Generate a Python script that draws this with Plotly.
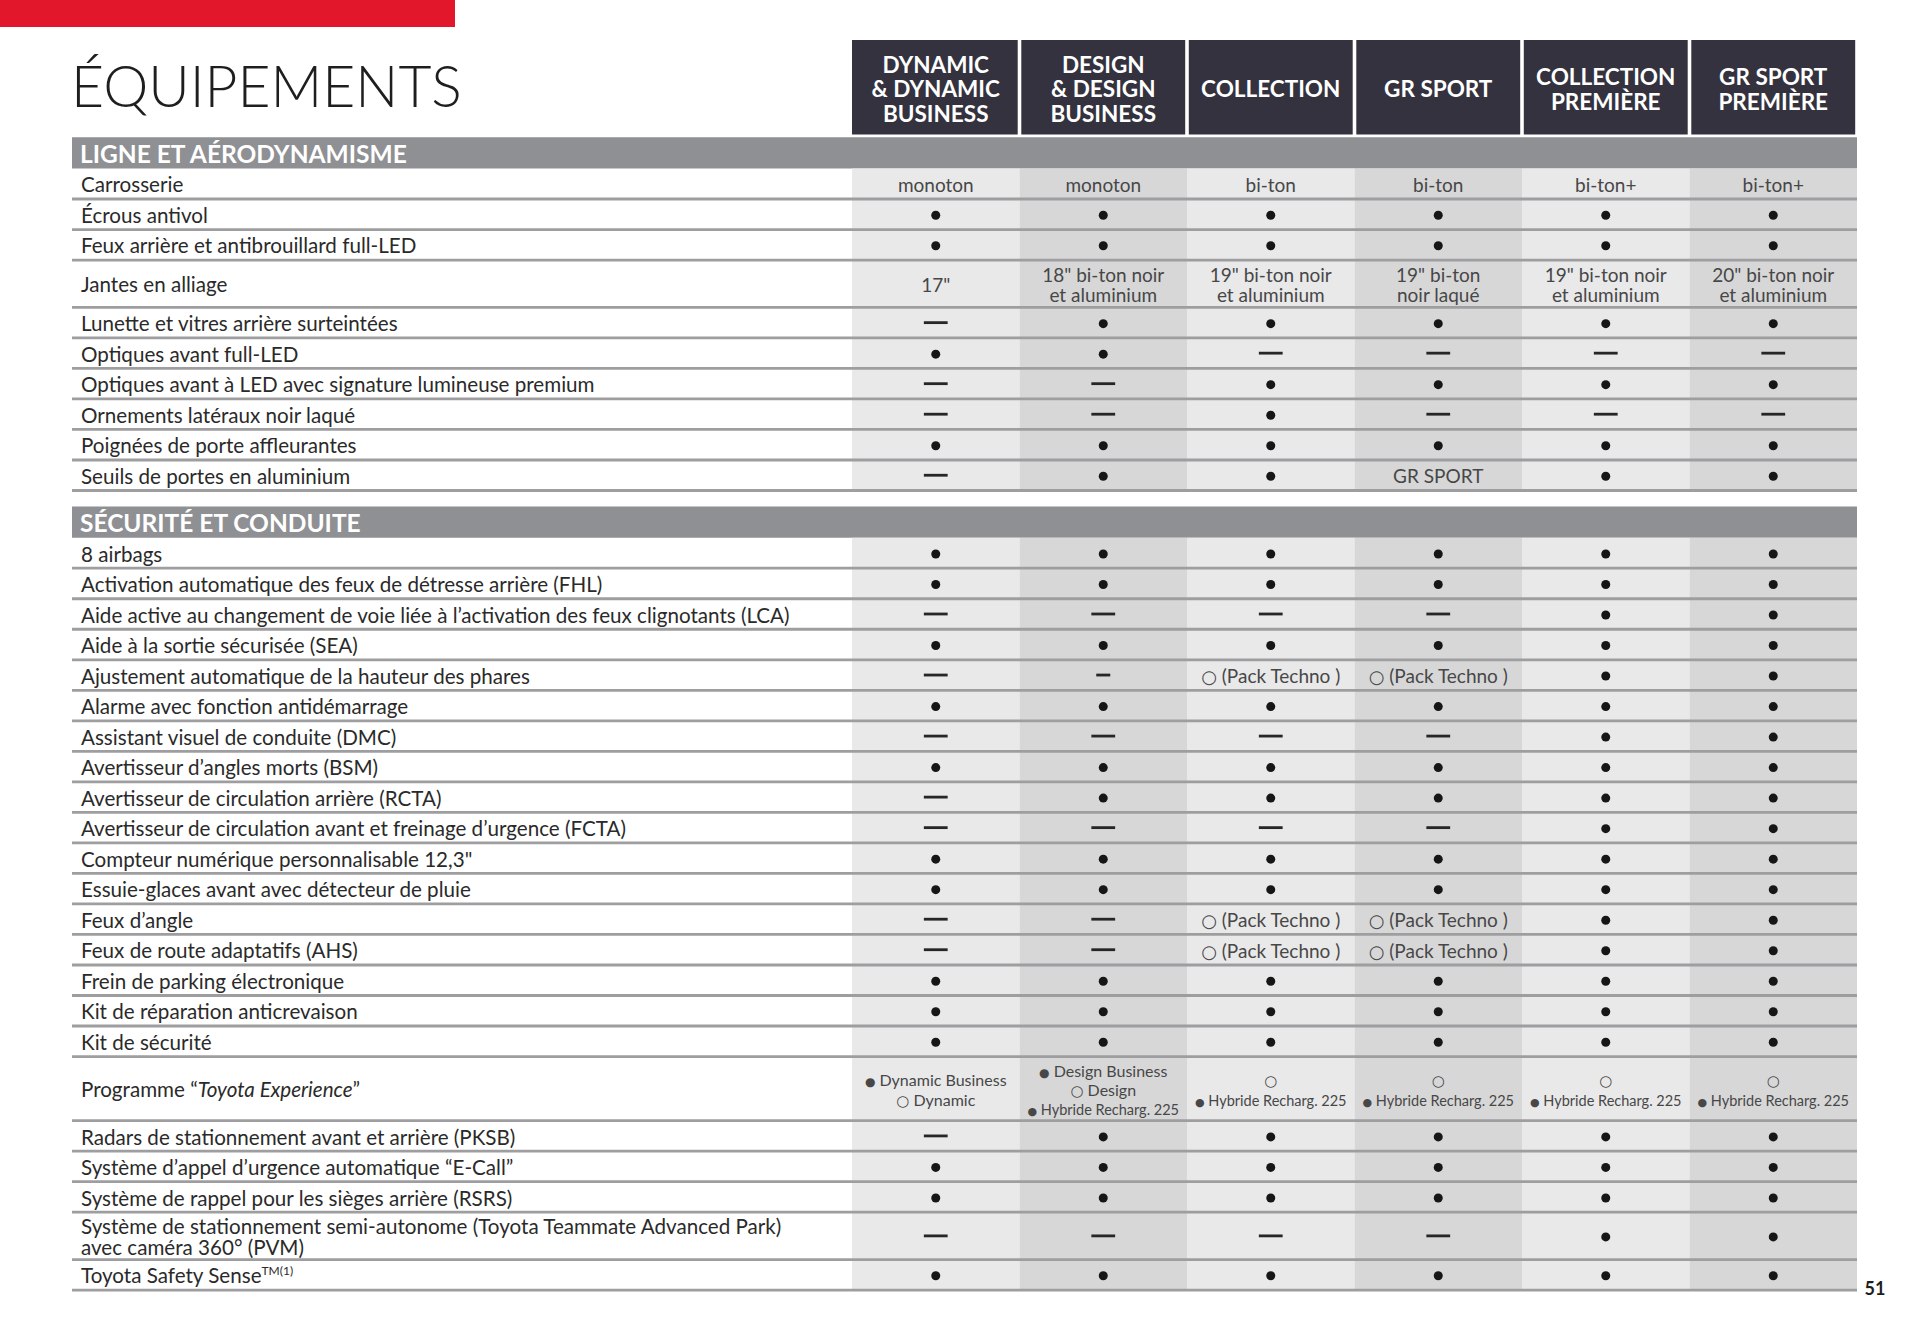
import plotly.graph_objects as go

# ---------------- data ----------------
title = "ÉQUIPEMENTS"
page_number = "51"

versions = [
    "DYNAMIC\n& DYNAMIC\nBUSINESS",
    "DESIGN\n& DESIGN\nBUSINESS",
    "COLLECTION",
    "GR SPORT",
    "COLLECTION\nPREMIÈRE",
    "GR SPORT\nPREMIÈRE",
]

section_ligne = "LIGNE ET AÉRODYNAMISME"
labels_ligne = [
    "Carrosserie",
    "Écrous antivol",
    "Feux arrière et antibrouillard full-LED",
    "Jantes en alliage",
    "Lunette et vitres arrière surteintées",
    "Optiques avant full-LED",
    "Optiques avant à LED avec signature lumineuse premium",
    "Ornements latéraux noir laqué",
    "Poignées de porte affleurantes",
    "Seuils de portes en aluminium",
]
values_ligne = [
    ["monoton", "monoton", "bi-ton", "bi-ton", "bi-ton+", "bi-ton+"],
    ["●", "●", "●", "●", "●", "●"],
    ["●", "●", "●", "●", "●", "●"],
    ["17\"", "18\" bi-ton noir\net aluminium", "19\" bi-ton noir\net aluminium",
     "19\" bi-ton\nnoir laqué", "19\" bi-ton noir\net aluminium", "20\" bi-ton noir\net aluminium"],
    ["—", "●", "●", "●", "●", "●"],
    ["●", "●", "—", "—", "—", "—"],
    ["—", "—", "●", "●", "●", "●"],
    ["—", "—", "●", "—", "—", "—"],
    ["●", "●", "●", "●", "●", "●"],
    ["—", "●", "●", "GR SPORT", "●", "●"],
]

section_securite = "SÉCURITÉ ET CONDUITE"
labels_securite = [
    "8 airbags",
    "Activation automatique des feux de détresse arrière (FHL)",
    "Aide active au changement de voie liée à l’activation des feux clignotants (LCA)",
    "Aide à la sortie sécurisée (SEA)",
    "Ajustement automatique de la hauteur des phares",
    "Alarme avec fonction antidémarrage",
    "Assistant visuel de conduite (DMC)",
    "Avertisseur d’angles morts (BSM)",
    "Avertisseur de circulation arrière (RCTA)",
    "Avertisseur de circulation avant et freinage d’urgence (FCTA)",
    "Compteur numérique personnalisable 12,3\"",
    "Essuie-glaces avant avec détecteur de pluie",
    "Feux d’angle",
    "Feux de route adaptatifs (AHS)",
    "Frein de parking électronique",
    "Kit de réparation anticrevaison",
    "Kit de sécurité",
    "Programme “<i>Toyota Experience</i>”",
    "Radars de stationnement avant et arrière (PKSB)",
    "Système d’appel d’urgence automatique “E-Call”",
    "Système de rappel pour les sièges arrière (RSRS)",
    "Système de stationnement semi-autonome (Toyota Teammate Advanced Park)\navec caméra 360° (PVM)",
    "Toyota Safety Sense<sup><span style=\"font-size:12px\">TM(1)</span></sup>",
]
PT = "○ (Pack Techno )"
HYB = "○\n● Hybride Recharg. 225"
values_securite = [
    ["●", "●", "●", "●", "●", "●"],
    ["●", "●", "●", "●", "●", "●"],
    ["—", "—", "—", "—", "●", "●"],
    ["●", "●", "●", "●", "●", "●"],
    ["—", "–", PT, PT, "●", "●"],
    ["●", "●", "●", "●", "●", "●"],
    ["—", "—", "—", "—", "●", "●"],
    ["●", "●", "●", "●", "●", "●"],
    ["—", "●", "●", "●", "●", "●"],
    ["—", "—", "—", "—", "●", "●"],
    ["●", "●", "●", "●", "●", "●"],
    ["●", "●", "●", "●", "●", "●"],
    ["—", "—", PT, PT, "●", "●"],
    ["—", "—", PT, PT, "●", "●"],
    ["●", "●", "●", "●", "●", "●"],
    ["●", "●", "●", "●", "●", "●"],
    ["●", "●", "●", "●", "●", "●"],
    ["● Dynamic Business\n○ Dynamic", "● Design Business\n○ Design\n● Hybride Recharg. 225",
     HYB, HYB, HYB, HYB],
    ["—", "●", "●", "●", "●", "●"],
    ["●", "●", "●", "●", "●", "●"],
    ["●", "●", "●", "●", "●", "●"],
    ["—", "—", "—", "—", "●", "●"],
    ["●", "●", "●", "●", "●", "●"],
]

sections = [
    (section_ligne, labels_ligne, values_ligne),
    (section_securite, labels_securite, values_securite),
]

# ---------------- styles / geometry ----------------
W, H = 1920, 1344
X_LEFT, X_VAL, X_RIGHT = 72, 852, 1857
COL_W = (X_RIGHT - X_VAL) / len(versions)
HEAD_TOP, HEAD_BOT = 40, 134.5
Y_START = 137.3
SEC_H = 31.2
ROW_H1, ROW_STEP = 30.52, 16.8
SEC_GAP = 16
LABEL_PAD = 9
TY = 3.5  # vertical nudge so the text glyphs sit centred like the reference

RED = "#e3172c"
DARK = "#33323e"
SEC_GRAY = "#8f9093"
COL_BG = ["#e9e9ea", "#d7d7d8"]
SEP = "#9e9ea0"
TXT = "#2a2a2a"
CELL_TXT = "#474747"
FONT = "Lato"


def n_lines(s):
    return s.count("\n") + 1


def glyphs(line, size):
    dot = '<span style="font-family:DejaVu Sans;font-size:%dpx">●</span>' % round(size * 0.78)
    ring = '<span style="font-family:DejaVu Sans;font-size:%dpx">○</span>' % round(size * 0.95)
    return line.replace("●", dot).replace("○", ring)


shapes = []
bg_shapes = []
sep_shapes = []

# red bar
shapes.append(dict(type="rect", xref="x", yref="y", x0=0, x1=455, y0=0, y1=27,
                   fillcolor=RED, line_width=0, layer="below"))

texts = dict(x=[], y=[], t=[], size=[], color=[], pos=[], weight=[])


def add_text(x, y, t, size, color, pos="middle center", weight=400):
    texts["x"].append(x)
    texts["y"].append(y + TY)
    texts["t"].append(t)
    texts["size"].append(size)
    texts["color"].append(color)
    texts["pos"].append(pos)
    texts["weight"].append(weight)


# header boxes
for j, v in enumerate(versions):
    x0 = X_VAL + j * COL_W
    shapes.append(dict(type="rect", xref="x", yref="y", x0=x0 + (0 if j == 0 else 1.8),
                       x1=x0 + COL_W - 1.8, y0=HEAD_TOP, y1=HEAD_BOT,
                       fillcolor=DARK, line_width=0, layer="below"))
    lines = v.split("\n")
    yc = (HEAD_TOP + HEAD_BOT) / 2 + 1
    for i, t in enumerate(lines):
        add_text(x0 + COL_W / 2, yc + (i - (len(lines) - 1) / 2) * 24.5, t, 22.5, "white", weight=700)

dots_x, dots_y, dash_x, dash_y, sdash_x, sdash_y = [], [], [], [], [], []

y = Y_START
for sec_title, labels, values in sections:
    shapes.append(dict(type="rect", xref="x", yref="y", x0=X_LEFT, x1=X_RIGHT, y0=y, y1=y + SEC_H,
                       fillcolor=SEC_GRAY, line_width=0, layer="below"))
    add_text(X_LEFT + LABEL_PAD - 1, y + SEC_H / 2 + 0.5, sec_title, 24.5, "white", "middle right", 700)
    y += SEC_H
    body_top = y
    for label, row in zip(labels, values):
        n = max([n_lines(label)] + [n_lines(v) for v in row])
        h = ROW_H1 + ROW_STEP * (n - 1)
        yc = y + h / 2
        ll = label.split("\n")
        for i, t in enumerate(ll):
            add_text(X_LEFT + LABEL_PAD, yc + (i - (len(ll) - 1) / 2) * 21.5, t, 20.6, TXT, "middle right")
        for j, v in enumerate(row):
            xc = X_VAL + (j + 0.5) * COL_W
            if v == "●":
                dots_x.append(xc); dots_y.append(yc + 1)
            elif v == "—":
                dash_x.append(xc); dash_y.append(yc)
            elif v == "–":
                sdash_x.append(xc); sdash_y.append(yc)
            else:
                lines = v.split("\n")
                base = 16 if n >= 3 else 19
                for i, t in enumerate(lines):
                    s = 14.5 if len(t) > 20 else base
                    add_text(xc, yc + (i - (len(lines) - 1) / 2) * 19.6, glyphs(t, s), s, CELL_TXT)
        y += h
        sep_shapes.append(dict(type="line", xref="x", yref="y", x0=X_LEFT, x1=X_RIGHT, y0=y, y1=y,
                               line=dict(color=SEP, width=2.8), layer="below"))
    for j in range(len(versions)):
        x0 = X_VAL + j * COL_W
        bg_shapes.append(dict(type="rect", xref="x", yref="y", x0=x0, x1=x0 + COL_W, y0=body_top, y1=y,
                              fillcolor=COL_BG[j % 2], line_width=0, layer="below"))
    y += SEC_GAP

fig = go.Figure()

# title & page number
add_text(X_LEFT - 1, 89, title, 57, "#1e1e1e", "middle right", 300)
add_text(1875, 1287, page_number, 18, "#1e1e1e", "middle center", 700)

fig.add_trace(go.Scatter(
    x=dots_x, y=dots_y, mode="markers", hoverinfo="skip", cliponaxis=False,
    marker=dict(symbol="circle", size=9, color="#161616", line_width=0)))
fig.add_trace(go.Scatter(
    x=dash_x, y=dash_y, mode="markers", hoverinfo="skip", cliponaxis=False,
    marker=dict(symbol="line-ew", size=17, line=dict(color="#262626", width=2.8))))
fig.add_trace(go.Scatter(
    x=sdash_x, y=sdash_y, mode="markers", hoverinfo="skip", cliponaxis=False,
    marker=dict(symbol="line-ew", size=10, line=dict(color="#262626", width=2.8))))
fig.add_trace(go.Scatter(
    x=texts["x"], y=texts["y"], text=texts["t"], mode="text", hoverinfo="skip", cliponaxis=False,
    textposition=texts["pos"],
    textfont=dict(family=FONT, size=texts["size"], color=texts["color"], weight=texts["weight"])))

fig.update_layout(
    width=W, height=H, margin=dict(l=0, r=0, t=0, b=0),
    paper_bgcolor="white", plot_bgcolor="white", showlegend=False,
    xaxis=dict(range=[0, W], visible=False, fixedrange=True),
    yaxis=dict(range=[H, 0], visible=False, fixedrange=True),
    shapes=shapes + bg_shapes + sep_shapes,
)

fig.write_html("out.html", config={"displayModeBar": False},
               post_script="document.body.style.margin='0';")
